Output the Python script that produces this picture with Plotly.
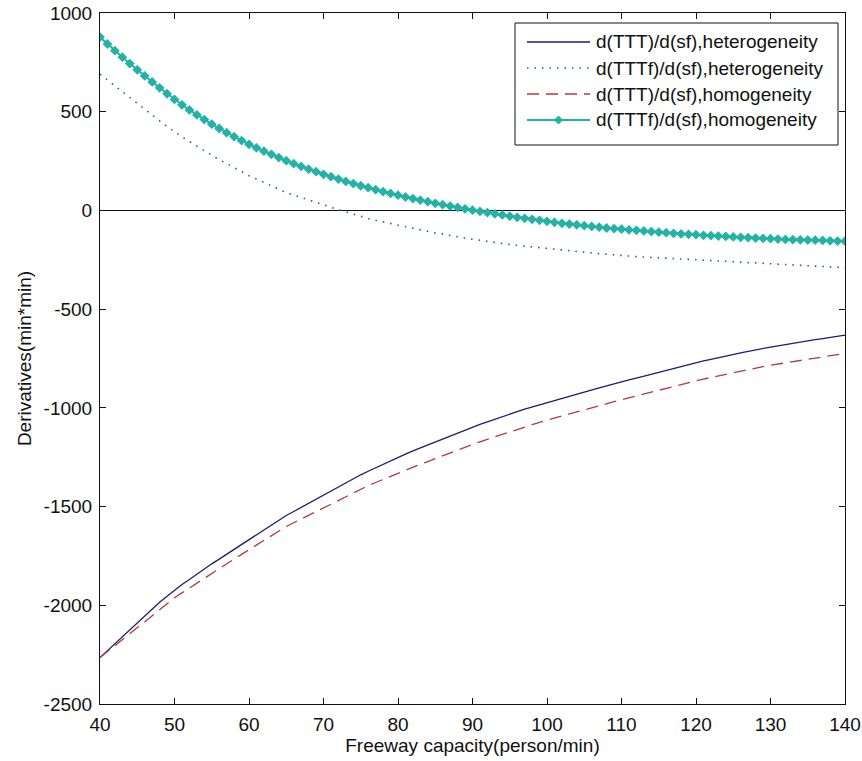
import plotly.graph_objects as go

# Freeway capacity (person/min)
capacity = list(range(40, 141))

# d(TTT)/d(sf), heterogeneity
dttt_hetero = [
    -2265, -2230, -2193, -2158, -2121, -2085, -2051, -2019, -1985, -1954,
    -1922, -1895, -1869, -1842, -1816, -1790, -1766, -1741, -1717, -1692,
    -1668, -1643, -1619, -1594, -1570, -1545, -1525, -1504, -1484, -1463,
    -1443, -1422, -1402, -1381, -1360, -1339, -1321, -1303, -1286, -1268,
    -1250, -1234, -1218, -1203, -1187, -1171, -1156, -1141, -1127, -1112,
    -1097, -1084, -1071, -1057, -1044, -1031, -1019, -1007, -996, -984,
    -972, -962, -951, -941, -930, -920, -910, -899, -889, -878,
    -868, -858, -849, -839, -830, -820, -810, -800, -791, -781,
    -771, -762, -754, -745, -737, -728, -721, -714, -706, -699,
    -692, -686, -679, -673, -666, -660, -654, -649, -643, -638,
    -632,
]

# d(TTTf)/d(sf), heterogeneity
dtttf_hetero = [
    690, 660, 630, 600, 570, 540, 511, 482, 454, 425,
    397, 373, 349, 325, 301, 278, 257, 237, 216, 196,
    176, 159, 142, 124, 107, 90, 78, 65, 53, 40,
    28, 16, 4, -8, -20, -32, -41, -50, -58, -67,
    -76, -84, -91, -99, -106, -114, -120, -127, -133, -140,
    -146, -151, -157, -162, -168, -173, -177, -181, -186, -190,
    -194, -198, -201, -205, -208, -212, -215, -219, -222, -226,
    -229, -231, -234, -236, -239, -241, -243, -245, -247, -249,
    -251, -253, -255, -256, -258, -260, -262, -264, -265, -267,
    -269, -271, -273, -275, -277, -279, -281, -283, -286, -288,
    -290,
]

# d(TTT)/d(sf), homogeneity
dttt_homo = [
    -2265, -2235, -2205, -2175, -2145, -2115, -2084, -2054, -2023, -1993,
    -1962, -1937, -1912, -1887, -1862, -1837, -1813, -1789, -1766, -1742,
    -1718, -1695, -1671, -1648, -1624, -1601, -1582, -1563, -1544, -1525,
    -1506, -1487, -1468, -1448, -1429, -1410, -1394, -1378, -1362, -1346,
    -1330, -1315, -1301, -1286, -1272, -1257, -1243, -1228, -1214, -1199,
    -1185, -1172, -1159, -1146, -1133, -1120, -1108, -1097, -1085, -1074,
    -1062, -1052, -1041, -1031, -1020, -1010, -1000, -990, -979, -969,
    -959, -949, -940, -930, -921, -911, -901, -892, -882, -873,
    -863, -854, -846, -837, -829, -820, -813, -806, -798, -791,
    -784, -778, -771, -765, -758, -752, -746, -741, -735, -730,
    -724,
]

# d(TTTf)/d(sf), homogeneity
dtttf_homo = [
    878, 843, 809, 776, 744, 712, 681, 651, 621, 591,
    562, 535, 509, 484, 460, 437, 415, 394, 374, 354,
    335, 317, 300, 284, 268, 252, 237, 223, 209, 196,
    183, 171, 159, 147, 136, 125, 115, 105, 95, 86,
    77, 68, 60, 52, 44, 36, 29, 22, 15, 8,
    1, -5, -11, -17, -23, -29, -35, -40, -45, -50,
    -55, -60, -65, -69, -73, -77, -81, -85, -89, -92,
    -95, -98, -101, -104, -107, -110, -113, -116, -119, -121,
    -123, -126, -128, -130, -132, -134, -136, -138, -140, -142,
    -143, -145, -147, -148, -149, -150, -151, -152, -154, -155,
    -156,
]

x_ticks = list(range(40, 141, 10))
y_ticks = list(range(-2500, 1001, 500))

series_names = [
    "d(TTT)/d(sf),heterogeneity",
    "d(TTTf)/d(sf),heterogeneity",
    "d(TTT)/d(sf),homogeneity",
    "d(TTTf)/d(sf),homogeneity",
]

NAVY = "#1c1c72"
GREEN = "#2c6a3c"
RED = "#b8383c"
TEAL = "#22b2a6"
FONT = dict(family="Liberation Sans, Arial, sans-serif", size=19, color="#111111")

fig = go.Figure()
fig.add_trace(go.Scatter(x=capacity, y=dttt_hetero, mode="lines",
                         line=dict(color=NAVY, width=1.3), name=series_names[0]))
fig.add_trace(go.Scatter(x=capacity, y=dtttf_hetero, mode="lines",
                         line=dict(color=GREEN, width=1.6, dash="1.5px,6px"),
                         name=series_names[1]))
fig.add_trace(go.Scatter(x=capacity, y=dttt_homo, mode="lines",
                         line=dict(color=RED, width=1.3, dash="12px,7px"),
                         name=series_names[2]))
fig.add_trace(go.Scatter(x=capacity, y=dtttf_homo, mode="lines+markers",
                         line=dict(color=TEAL, width=2),
                         marker=dict(symbol="diamond", size=7.5, color=TEAL),
                         name=series_names[3]))

# Boxed legend in the upper-right corner, drawn with shapes and text
PLOT_W, PLOT_H = 745.0, 691.0
shapes = []
annotations = []
box_x0 = (515 - 100) / PLOT_W
box_x1 = (838 - 100) / PLOT_W
box_y1 = (704 - 23) / PLOT_H
box_y0 = (704 - 145) / PLOT_H
shapes.append(dict(type="rect", xref="paper", yref="paper",
                   x0=box_x0, x1=box_x1, y0=box_y0, y1=box_y1,
                   line=dict(color="#111111", width=1), fillcolor="white",
                   layer="above"))
line_x0 = (527 - 100) / PLOT_W
line_x1 = (590 - 100) / PLOT_W
text_x = (594 - 100) / PLOT_W
styles = [
    dict(color=NAVY, width=1.3, dash="solid"),
    dict(color=GREEN, width=1.6, dash="1.5px,6px"),
    dict(color=RED, width=1.3, dash="12px,7px"),
    dict(color=TEAL, width=2, dash="solid"),
]
for i, (label, st) in enumerate(zip(series_names, styles)):
    yc = (704 - 42 - i * 26) / PLOT_H
    shapes.append(dict(type="line", xref="paper", yref="paper",
                       x0=line_x0, x1=line_x1, y0=yc, y1=yc,
                       line=st, layer="above"))
    annotations.append(dict(xref="paper", yref="paper", x=text_x, y=yc,
                            text=label, showarrow=False, xanchor="left",
                            yanchor="middle", font=FONT))
    if i == 3:
        xm = (line_x0 + line_x1) / 2
        shapes.append(dict(type="path", xref="paper", yref="paper",
                           xsizemode="pixel", ysizemode="pixel",
                           xanchor=xm, yanchor=yc,
                           path="M -4 0 L 0 4 L 4 0 L 0 -4 Z",
                           fillcolor=TEAL, line=dict(color=TEAL, width=1),
                           layer="above"))

axis_common = dict(
    showline=True, linecolor="#111111", linewidth=1, mirror="ticks",
    ticks="inside", ticklen=6, tickwidth=1, tickcolor="#111111",
    showgrid=False, tickfont=FONT, automargin=False,
)

fig.update_layout(
    width=862, height=761,
    margin=dict(l=100, r=17, t=13, b=57),
    paper_bgcolor="white", plot_bgcolor="white",
    showlegend=False,
    font=FONT,
    shapes=shapes, annotations=annotations,
    xaxis=dict(range=[40, 140], tickvals=x_ticks, ticktext=[str(v) for v in x_ticks],
               zeroline=False, ticklabelstandoff=3,
               title=dict(text="Freeway capacity(person/min)", font=FONT, standoff=0),
               **axis_common),
    yaxis=dict(range=[-2500, 1000], tickvals=y_ticks, ticktext=[str(v) for v in y_ticks],
               zeroline=True, zerolinecolor="#111111", zerolinewidth=1,
               ticklabelstandoff=3,
               title=dict(text="Derivatives(min*min)", font=FONT, standoff=6),
               **axis_common),
)

fig.write_html("out.html")
